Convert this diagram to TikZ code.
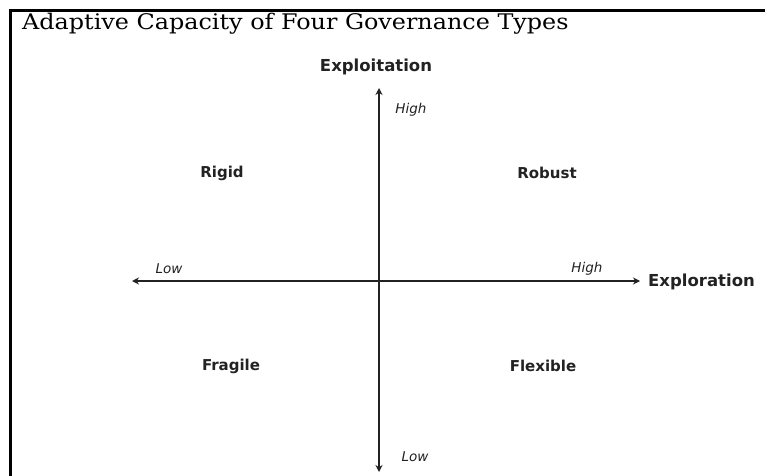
\documentclass[tikz,border=0pt]{standalone}
\usepackage{fontspec}
\setmainfont{DejaVu Serif}
\setsansfont{DejaVu Sans}
\usetikzlibrary{arrows.meta}
\definecolor{ink}{HTML}{222222}
\begin{document}
\begin{tikzpicture}[x=1pt,y=-1pt,
  frame/.style={line width=2.6pt,black},
  axis/.style={line width=2pt,ink,-{Stealth[length=7pt,width=7pt]}},
  axlabel/.style={font=\sffamily\bfseries\fontsize{16.5}{18}\selectfont,text=ink,inner sep=0pt},
  quad/.style={font=\sffamily\bfseries\fontsize{15}{17}\selectfont,text=ink,inner sep=0pt},
  level/.style={font=\sffamily\itshape\fontsize{13.5}{15}\selectfont,text=ink,inner sep=0pt},
  title/.style={font=\fontsize{21.5}{24}\selectfont,text=black,inner sep=0pt,anchor=base west}]
\useasboundingbox (0,0) rectangle (765,476);
\fill[white] (0,0) rectangle (765,476);
\draw[frame] (10.5,500) -- (10.5,10.5) -- (800,10.5);
\node[title] (t) at (22,30) {\scalebox{1.11}[1]{Adaptive Capacity of Four Governance Types}};
\coordinate (o) at (379,281);
\coordinate (top) at (379,88);
\coordinate (bot) at (379,472);
\coordinate (lft) at (132,281);
\coordinate (rgt) at (640,281);
\draw[axis] (o) -- (top);
\draw[axis] (o) -- (bot);
\draw[axis] (o) -- (lft);
\draw[axis] (o) -- (rgt);
\node[axlabel] (ey) at (376,67) {Exploitation};
\node[axlabel,anchor=west] (ex) at (648,282) {Exploration};
\node[level] (hy) at (411,110) {High};
\node[level] (ly) at (415,457) {Low};
\node[level] (lx) at (169,269) {Low};
\node[level] (hx) at (587,269) {High};
\node[quad] (rig) at (222,173) {Rigid};
\node[quad] (rob) at (547,173) {Robust};
\node[quad] (fra) at (231,366) {Fragile};
\node[quad] (fle) at (543,366) {Flexible};
\end{tikzpicture}
\end{document}
